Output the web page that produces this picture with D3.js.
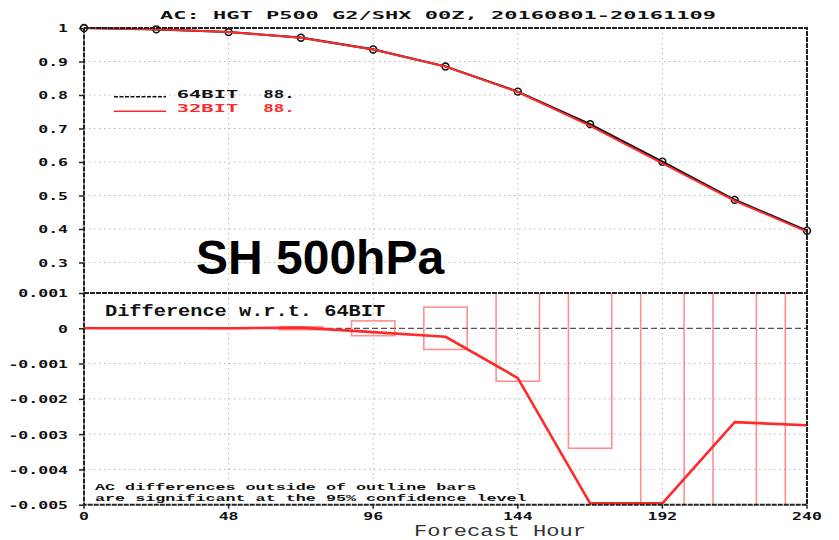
<!DOCTYPE html>
<html>
<head>
<meta charset="utf-8">
<script src="https://cdn.jsdelivr.net/npm/d3@7/dist/d3.min.js"></script>
<style>
  html, body { margin: 0; padding: 0; background: #fff; }
  svg { display: block; }
</style>
</head>
<body>
<svg id="chart" width="839" height="540"></svg>
<script>
// Forecast hours (every 24 h out to day 10)
const hours = [0, 24, 48, 72, 96, 120, 144, 168, 192, 216, 240];
// Anomaly correlation, 500 hPa height, southern hemisphere
const ac64 = [1.0, 0.996, 0.988, 0.971, 0.936, 0.885, 0.810, 0.713, 0.601, 0.487, 0.395];
const ac32 = [1.0, 0.996, 0.988, 0.971, 0.936, 0.885, 0.809, 0.708, 0.596, 0.484, 0.392];
// 32BIT minus 64BIT
const diff32 = [0, 0, 0, 0.00002, -0.00011, -0.00024, -0.00141, -0.00496, -0.00496, -0.00266, -0.00275];
// Half-width of the 95% confidence outline bars
const ciHalf = [0, 0, 0.00001, 0.00004, 0.00021, 0.0006, 0.0015, 0.0034, 0.008, 0.012, 0.015];
// Axis tick values
const xTicks = [0, 48, 96, 144, 192, 240];
const topTicks = [0.3, 0.4, 0.5, 0.6, 0.7, 0.8, 0.9, 1];
const botTicks = [0.001, 0, -0.001, -0.002, -0.003, -0.004, -0.005];
const legendItems = [
  { name: "64BIT", score: "88.", color: "#111", dash: "4,1.5" },
  { name: "32BIT", score: "88.", color: "#ff2a2a", dash: null }
];

const svg = d3.select("#chart");
const L = 84, R = 807, T = 28, MID = 293, B = 504.7;

const x = d3.scaleLinear().domain([0, 240]).range([L, R]);
const yTop = d3.scaleLinear().domain([0.3, 1]).range([262.5, T]);
const yBot = d3.scaleLinear().domain([-0.005, 0.001]).range([B, MID]);

const MONO = "'DejaVu Sans Mono', monospace";
const CMONO = "'Liberation Mono', 'Courier New', monospace";

// Wide plotting-package style text: horizontally stretched glyphs
function wtext(parent, str, px, py, opt) {
  return parent.append("text")
    .attr("transform", `translate(${px},${py}) scale(${opt.sx || 1},1)`)
    .attr("text-anchor", opt.anchor || "start")
    .attr("font-family", opt.family || MONO)
    .attr("font-weight", opt.weight || "bold")
    .attr("font-size", opt.size || 11)
    .attr("fill", opt.fill || "#111")
    .text(str);
}

svg.append("defs").append("clipPath").attr("id", "clipBot")
  .append("rect").attr("x", L).attr("y", MID).attr("width", R - L).attr("height", B - MID);

// grid
const grid = svg.append("g").attr("stroke", "#b8b8b8").attr("stroke-width", 1)
  .attr("stroke-dasharray", "1.5,3.5");
xTicks.slice(1, -1).forEach(h => {
  grid.append("line").attr("x1", x(h)).attr("x2", x(h)).attr("y1", T).attr("y2", B);
});
topTicks.filter(v => v < 1).forEach(v => {
  grid.append("line").attr("x1", L).attr("x2", R).attr("y1", yTop(v)).attr("y2", yTop(v));
});
botTicks.filter(v => v < 0 && v > -0.005).forEach(v => {
  grid.append("line").attr("x1", L).attr("x2", R).attr("y1", yBot(v)).attr("y2", yBot(v));
});

// axes (left ticks, bottom ticks)
const axTop = svg.append("g").attr("transform", `translate(${L},0)`)
  .call(d3.axisLeft(yTop).tickValues(topTicks).tickSize(5).tickFormat(d => d === 1 ? "1" : d3.format(".1f")(d)));
const axBot = svg.append("g").attr("transform", `translate(${L},0)`)
  .call(d3.axisLeft(yBot).tickValues(botTicks).tickSize(5).tickFormat(d => d === 0 ? "0" : d3.format(".3f")(d).replace("−", "-")));
const axX = svg.append("g").attr("transform", `translate(0,${B})`)
  .call(d3.axisBottom(x).tickValues(xTicks).tickSize(4).tickFormat(d3.format("d")));
[axTop, axBot, axX].forEach(a => {
  a.select(".domain").remove();
  a.selectAll(".tick line").attr("stroke", "#222").attr("stroke-width", 1.5);
  a.selectAll(".tick text").attr("fill", "#111").attr("font-family", MONO)
    .attr("font-weight", "bold").attr("font-size", 11);
});
[axTop, axBot].forEach(a => {
  a.selectAll(".tick text").attr("x", -8).attr("dy", "0.36em")
    .attr("transform", "translate(-4,0) scale(1.5,1)").attr("text-anchor", "end");
});
axX.selectAll(".tick text").attr("y", 8).attr("dy", "0.71em")
  .attr("transform", "scale(1.5,1)");
axX.selectAll(".tick").each(function (d) {
  d3.select(this).attr("transform", `translate(${x(d)},0)`);
});

// zero reference line of the difference panel
svg.append("line").attr("x1", L).attr("x2", R).attr("y1", yBot(0)).attr("y2", yBot(0))
  .attr("stroke", "#555").attr("stroke-width", 1.2).attr("stroke-dasharray", "6,3");

// confidence outline bars
const bot = svg.append("g").attr("clip-path", "url(#clipBot)");
hours.forEach((h, i) => {
  if (ciHalf[i] <= 0) return;
  bot.append("rect")
    .attr("x", x(h - 7.2)).attr("width", x(h + 7.2) - x(h - 7.2))
    .attr("y", yBot(ciHalf[i])).attr("height", yBot(-ciHalf[i]) - yBot(ciHalf[i]))
    .attr("fill", "none").attr("stroke", "rgba(255,70,70,0.6)").attr("stroke-width", 1.6);
});

// difference curve
bot.append("path").datum(hours.map((h, i) => [h, diff32[i]]))
  .attr("fill", "none").attr("stroke", "#ff2a2a").attr("stroke-width", 2.6)
  .attr("stroke-linejoin", "round")
  .attr("d", d3.line().x(d => x(d[0])).y(d => yBot(d[1])));

// anomaly correlation curves
const lineTop = d3.line().x(d => x(d[0])).y(d => yTop(d[1]));
svg.append("path").datum(hours.map((h, i) => [h, ac64[i]]))
  .attr("fill", "none").attr("stroke", "#111").attr("stroke-width", 2.2).attr("d", lineTop);
svg.append("g").selectAll("circle").data(hours.map((h, i) => [h, ac64[i]])).join("circle")
  .attr("cx", d => x(d[0])).attr("cy", d => yTop(d[1])).attr("r", 3.4)
  .attr("fill", "none").attr("stroke", "#111").attr("stroke-width", 1.6);
svg.append("path").datum(hours.map((h, i) => [h, ac32[i]]))
  .attr("fill", "none").attr("stroke", "#ff2a2a").attr("stroke-width", 2).attr("d", lineTop);

// frame and panel divider
const frame = svg.append("g").attr("stroke", "#222").attr("stroke-width", 2).attr("fill", "none")
  .attr("stroke-dasharray", "5,1");
frame.append("rect").attr("x", L).attr("y", T).attr("width", R - L).attr("height", B - T);
frame.append("line").attr("x1", L).attr("x2", R).attr("y1", MID).attr("y2", MID);

// legend
legendItems.forEach((it, i) => {
  const ly = 96.7 + i * 14.5;
  svg.append("line").attr("x1", 114).attr("x2", 166).attr("y1", ly).attr("y2", ly)
    .attr("stroke", it.color).attr("stroke-width", 1.6)
    .attr("stroke-dasharray", it.dash);
  wtext(svg, it.name, 176.7, ly + 1, { size: 10, sx: 2.05, fill: it.color });
  wtext(svg, it.score, 263.3, ly + 1, { size: 10, sx: 1.75, fill: it.color });
});

// titles and notes
wtext(svg, "AC: HGT P500 G2/SHX 00Z, 20160801-20161109", 438, 19, { size: 10, sx: 2.2, anchor: "middle" });
wtext(svg, "Difference w.r.t. 64BIT", 105, 315.7, { size: 16, sx: 1.27, family: CMONO });
wtext(svg, "AC differences outside of outline bars", 95, 489.6, { size: 9.3, sx: 1.8, family: CMONO });
wtext(svg, "are significant at the 95% confidence level", 95, 500.6, { size: 9.3, sx: 1.8, family: CMONO });
wtext(svg, "Forecast Hour", 500, 535.5, { size: 16, sx: 1.38, family: CMONO, weight: "normal", fill: "#333", anchor: "middle" });

svg.append("text").attr("x", 196).attr("y", 273.5)
  .attr("font-family", "'Liberation Sans', Arial, sans-serif").attr("font-weight", "bold")
  .attr("font-size", 48).attr("fill", "#000").text("SH 500hPa");
</script>
</body>
</html>
